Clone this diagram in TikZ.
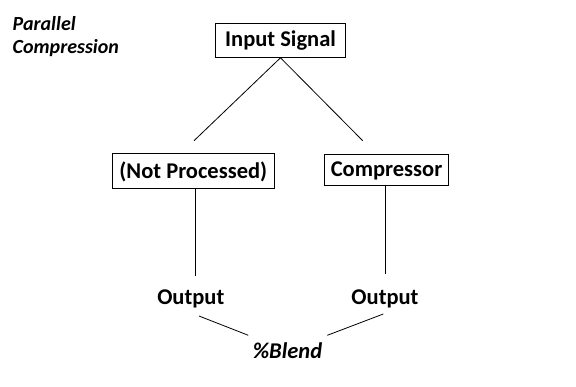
\documentclass[tikz,border=0pt]{standalone}
\usepackage{fontspec}
\setmainfont{Carlito}

\begin{document}
\begin{tikzpicture}[x=1pt,y=-1pt,font=\fontsize{22.5}{27}\selectfont\bfseries,
 box/.style={draw,line width=1pt,inner sep=0pt,align=center},
 wire/.style={line width=.8pt}]
\useasboundingbox (0,0) rectangle (576,387);
\node[anchor=north west,inner sep=0pt,align=left,font=\fontsize{20}{23.3}\selectfont\bfseries\itshape] (title) at (12.5,16) {Parallel\\Compression};
\node[box,minimum width=129.6pt,minimum height=34pt] (sig) at (280.5,40.3) {Input Signal};
\node[box,minimum width=162pt,minimum height=35pt] (raw) at (193.3,171.5) {(Not Processed)};
\node[box,minimum width=124.3pt,minimum height=31pt] (comp) at (386.5,170.5) {Compressor};
\node[anchor=base] (outa) at (190.8,304.3) {Output};
\node[anchor=base] (outb) at (385,304.3) {Output};
\node[anchor=base,font=\fontsize{22.5}{27}\selectfont\bfseries\itshape] (blend) at (287.5,358.3) {\%Blend};
% free ends of the connectors
\coordinate (rawtop) at (194,140.7);
\coordinate (comptop) at (362.7,140.7);
\coordinate (rawend) at (195.7,275.7);
\coordinate (compend) at (385.3,273.7);
\coordinate (outaend) at (199,316);
\coordinate (outbend) at (383.3,314);
\coordinate (blendl) at (248.3,335.3);
\coordinate (blendr) at (327.3,335.3);
\draw[wire] (sig.south) -- (rawtop);
\draw[wire] (sig.south) -- (comptop);
\draw[wire] (rawend |- raw.south) -- (rawend);
\draw[wire] (compend |- comp.south) -- (compend);
\draw[wire] (outaend) -- (blendl);
\draw[wire] (outbend) -- (blendr);
\end{tikzpicture}
\end{document}
